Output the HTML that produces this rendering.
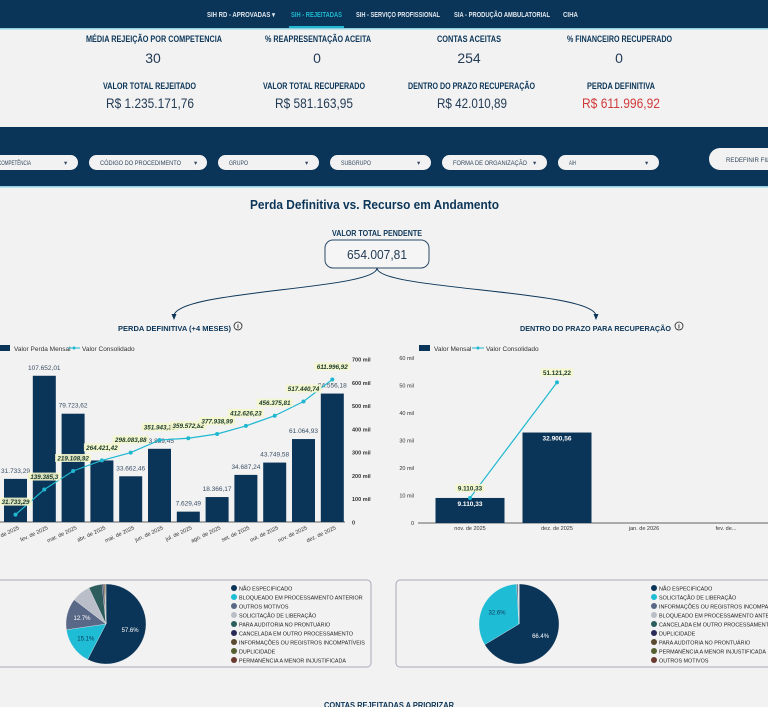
<!DOCTYPE html>
<html><head><meta charset="utf-8">
<style>
html,body{margin:0;padding:0;width:768px;height:707px;overflow:hidden;background:#f2f2f2;font-family:"Liberation Sans",sans-serif;}
svg text{font-family:"Liberation Sans",sans-serif;}
</style></head>
<body>
<svg id="page" width="768" height="707" viewBox="0 0 768 707" xmlns="http://www.w3.org/2000/svg">
  <rect x="0" y="0" width="768" height="707" fill="#f2f2f2"/>
  <g>
    <rect x="0" y="0" width="768" height="28" fill="#0b3558"/>
    <text x="207" y="17" font-size="7" fill="#dfe6ee" font-weight="bold" textLength="68" lengthAdjust="spacingAndGlyphs">SIH RD - APROVADAS ▾</text>
    <text x="291" y="17" font-size="7" fill="#1fb8d0" font-weight="bold" textLength="51" lengthAdjust="spacingAndGlyphs">SIH - REJEITADAS</text>
    <rect x="289" y="26" width="55" height="2" fill="#1fb8d0"/>
    <text x="356" y="17" font-size="7" fill="#dfe6ee" font-weight="bold" textLength="84" lengthAdjust="spacingAndGlyphs">SIH - SERVIÇO PROFISSIONAL</text>
    <text x="454" y="17" font-size="7" fill="#dfe6ee" font-weight="bold" textLength="96" lengthAdjust="spacingAndGlyphs">SIA - PRODUÇÃO AMBULATORIAL</text>
    <text x="563" y="17" font-size="7" fill="#dfe6ee" font-weight="bold" textLength="15" lengthAdjust="spacingAndGlyphs">CIHA</text>
  </g>
  <rect x="0" y="28" width="768" height="1.5" fill="#8fd3e0"/>
  <g fill="#0b3558">
    <text x="86" y="42" font-size="9" font-weight="bold" textLength="136" lengthAdjust="spacingAndGlyphs">MÉDIA REJEIÇÃO POR COMPETENCIA</text>
    <text x="153" y="63" font-size="14" fill="#233b55" text-anchor="middle">30</text>
    <text x="265" y="42" font-size="9" font-weight="bold" textLength="106" lengthAdjust="spacingAndGlyphs">% REAPRESENTAÇÃO ACEITA</text>
    <text x="317" y="63" font-size="14" fill="#233b55" text-anchor="middle">0</text>
    <text x="437" y="42" font-size="9" font-weight="bold" textLength="64" lengthAdjust="spacingAndGlyphs">CONTAS ACEITAS</text>
    <text x="469" y="63" font-size="14" fill="#233b55" text-anchor="middle">254</text>
    <text x="567" y="42" font-size="9" font-weight="bold" textLength="105" lengthAdjust="spacingAndGlyphs">% FINANCEIRO RECUPERADO</text>
    <text x="619" y="63" font-size="14" fill="#233b55" text-anchor="middle">0</text>
    <text x="103" y="89" font-size="9" font-weight="bold" textLength="93" lengthAdjust="spacingAndGlyphs">VALOR TOTAL REJEITADO</text>
    <text x="106" y="108" font-size="14" fill="#233b55" textLength="88" lengthAdjust="spacingAndGlyphs">R$ 1.235.171,76</text>
    <text x="263" y="89" font-size="9" font-weight="bold" textLength="102" lengthAdjust="spacingAndGlyphs">VALOR TOTAL RECUPERADO</text>
    <text x="275" y="108" font-size="14" fill="#233b55" textLength="78" lengthAdjust="spacingAndGlyphs">R$ 581.163,95</text>
    <text x="408" y="89" font-size="9" font-weight="bold" textLength="127" lengthAdjust="spacingAndGlyphs">DENTRO DO PRAZO RECUPERAÇÃO</text>
    <text x="437" y="108" font-size="14" fill="#233b55" textLength="70" lengthAdjust="spacingAndGlyphs">R$ 42.010,89</text>
    <text x="587" y="89" font-size="9" font-weight="bold" textLength="68" lengthAdjust="spacingAndGlyphs">PERDA DEFINITIVA</text>
    <text x="582" y="108" font-size="14" fill="#d03a3a" textLength="78" lengthAdjust="spacingAndGlyphs">R$ 611.996,92</text>
  </g>
  <g>
    <rect x="0" y="127" width="768" height="59" fill="#0b3558"/>
    <rect x="0" y="186" width="768" height="1.5" fill="#8fd3e0"/>
    <g font-size="6.5" fill="#33475e">
      <rect x="-20" y="155" width="98" height="15" rx="7.5" fill="#f2f2f2"/>
      <text x="-2" y="165" textLength="33" lengthAdjust="spacingAndGlyphs">COMPETÊNCIA</text><text x="64" y="165">▾</text>
      <rect x="89" y="155" width="118" height="15" rx="7.5" fill="#f2f2f2"/>
      <text x="100" y="165" textLength="81" lengthAdjust="spacingAndGlyphs">CÓDIGO DO PROCEDIMENTO</text><text x="194" y="165">▾</text>
      <rect x="218" y="155" width="101" height="15" rx="7.5" fill="#f2f2f2"/>
      <text x="229" y="165" textLength="19" lengthAdjust="spacingAndGlyphs">GRUPO</text><text x="305" y="165">▾</text>
      <rect x="330" y="155" width="101" height="15" rx="7.5" fill="#f2f2f2"/>
      <text x="341" y="165" textLength="30" lengthAdjust="spacingAndGlyphs">SUBGRUPO</text><text x="417" y="165">▾</text>
      <rect x="442" y="155" width="105" height="15" rx="7.5" fill="#f2f2f2"/>
      <text x="453" y="165" textLength="74" lengthAdjust="spacingAndGlyphs">FORMA DE ORGANIZAÇÃO</text><text x="533" y="165">▾</text>
      <rect x="558" y="155" width="101" height="15" rx="7.5" fill="#f2f2f2"/>
      <text x="569" y="165" textLength="7" lengthAdjust="spacingAndGlyphs">AIH</text><text x="645" y="165">▾</text>
      <rect x="709" y="148" width="80" height="22" rx="11" fill="#f2f2f2"/>
      <text x="726" y="162" textLength="60" lengthAdjust="spacingAndGlyphs">REDEFINIR FILTROS</text>
    </g>
  </g>
  <text x="250" y="209" font-size="13" font-weight="bold" fill="#0b3558" textLength="249" lengthAdjust="spacingAndGlyphs">Perda Definitiva vs. Recurso em Andamento</text>
  <text x="332" y="236" font-size="8" font-weight="bold" fill="#0b3558" textLength="90" lengthAdjust="spacingAndGlyphs">VALOR TOTAL PENDENTE</text>
  <rect x="325" y="240" width="104" height="28" rx="8" fill="#f5f5f5" stroke="#2b4a68" stroke-width="1"/>
  <text x="347" y="259" font-size="13" fill="#233b55" textLength="60" lengthAdjust="spacingAndGlyphs">654.007,81</text>
  <path d="M377 268 C377 290 175 290 174 316" fill="none" stroke="#0b3558" stroke-width="1"/>
  <path d="M377 268 C377 290 595 290 596 316" fill="none" stroke="#0b3558" stroke-width="1"/>
  <path d="M171.5 314 L174 320 L176.5 314 Z M593.5 314 L596 320 L598.5 314 Z" fill="#0b3558"/>
  <text x="118" y="331" font-size="7.5" font-weight="bold" fill="#0b3558" textLength="113" lengthAdjust="spacingAndGlyphs">PERDA DEFINITIVA (+4 MESES)</text>
  <circle cx="238" cy="326" r="4" fill="none" stroke="#222" stroke-width="0.8"/>
  <text x="238" y="328.5" font-size="6" text-anchor="middle" font-weight="bold" fill="#222">i</text>
  <text x="520" y="331" font-size="7.5" font-weight="bold" fill="#0b3558" textLength="151" lengthAdjust="spacingAndGlyphs">DENTRO DO PRAZO PARA RECUPERAÇÃO</text>
  <circle cx="679" cy="326" r="4" fill="none" stroke="#222" stroke-width="0.8"/>
  <text x="679" y="328.5" font-size="6" text-anchor="middle" font-weight="bold" fill="#222">i</text>
  <g font-size="6.5" fill="#333">
    <rect x="0" y="345" width="10" height="6" fill="#0b3558"/><text x="14" y="351">Valor Perda Mensal</text>
    <line x1="68" y1="348" x2="80" y2="348" stroke="#1fb8d0"/><circle cx="74" cy="348" r="1.5" fill="#1fb8d0"/><text x="82" y="351">Valor Consolidado</text>
    <rect x="419" y="345" width="11" height="6" fill="#0b3558"/><text x="434" y="351">Valor Mensal</text>
    <line x1="472" y1="348" x2="484" y2="348" stroke="#1fb8d0"/><circle cx="478" cy="348" r="1.5" fill="#1fb8d0"/><text x="486" y="351">Valor Consolidado</text>
  </g>
  <g id="leftChart"></g>
  <g id="rightChart"></g>
  <text x="125" y="603" font-size="8" font-weight="bold" fill="#0b3558" textLength="112" lengthAdjust="spacingAndGlyphs">RANKING - MOTIVOS BLOQUEIO</text>
  <rect x="-10" y="580" width="381" height="87" rx="4" fill="#f2f2f2" stroke="#aab" stroke-width="1"/>
  <text x="538" y="603" font-size="8" font-weight="bold" fill="#0b3558" textLength="112" lengthAdjust="spacingAndGlyphs">RANKING - MOTIVOS BLOQUEIO</text>
  <rect x="396" y="580" width="390" height="87" rx="4" fill="#f2f2f2" stroke="#aab" stroke-width="1"/>
  <g id="leftPie"></g>
  <g id="rightPie"></g>
  <text x="324" y="708" font-size="8" font-weight="bold" fill="#0b3558" textLength="130" lengthAdjust="spacingAndGlyphs">CONTAS REJEITADAS A PRIORIZAR</text>
</svg>
<script>
const NS="http://www.w3.org/2000/svg";
const leftMonths=["jan. de 2025","fev. de 2025","mar. de 2025","abr. de 2025","mai. de 2025","jun. de 2025","jul. de 2025","ago. de 2025","set. de 2025","out. de 2025","nov. de 2025","dez. de 2025"];
const leftMonthly=[31733.29,107652.01,79723.62,45312.50,33662.46,53889.45,7629.49,18366.17,34687.24,43749.58,61064.93,94556.18];
const leftConsolidated=[31733.29,139385.3,219108.92,264421.42,298083.88,351943.33,359572.82,377938.99,412626.23,456375.81,517440.74,611996.92];
const leftTicks=[0,100000,200000,300000,400000,500000,600000,700000];
const leftTickLabels=["0","100 mil","200 mil","300 mil","400 mil","500 mil","600 mil","700 mil"];
const rightMonths=["nov. de 2025","dez. de 2025","jan. de 2026","fev. de..."];
const rightMonthly=[9110.33,32900.56];
const rightConsolidated=[9110.33,51121.22];
const rightTicks=[0,10000,20000,30000,40000,50000,60000];
const rightTickLabels=["0","10 mil","20 mil","30 mil","40 mil","50 mil","60 mil"];
const leftPieLabels=["NÃO ESPECIFICADO","BLOQUEADO EM PROCESSAMENTO ANTERIOR","OUTROS MOTIVOS","SOLICITAÇÃO DE LIBERAÇÃO","PARA AUDITORIA NO PRONTUÁRIO","CANCELADA EM OUTRO PROCESSAMENTO","INFORMAÇÕES OU REGISTROS INCOMPATÍVEIS","DUPLICIDADE","PERMANÊNCIA A MENOR INJUSTIFICADA"];
const leftPieValues=[57.6,15.1,12.7,7.6,5.4,0.6,0.5,0.3,0.2];
const rightPieLabels=["NÃO ESPECIFICADO","SOLICITAÇÃO DE LIBERAÇÃO","INFORMAÇÕES OU REGISTROS INCOMPATÍVEIS","BLOQUEADO EM PROCESSAMENTO ANTERIOR","CANCELADA EM OUTRO PROCESSAMENTO","DUPLICIDADE","PARA AUDITORIA NO PRONTUÁRIO","PERMANÊNCIA A MENOR INJUSTIFICADA","OUTROS MOTIVOS"];
const rightPieValues=[66.4,32.6,0.6,0.2,0.1,0.05,0.03,0.01,0.01];
const pieColors=["#0b3558","#1fbcd6","#5a6888","#b9bec8","#2d5c5c","#2a2a5a","#5a4a30","#556030","#6a3a30"];

function el(tag,attrs,parent,txt){const e=document.createElementNS(NS,tag);for(const k in attrs)e.setAttribute(k,attrs[k]);if(txt!==undefined)e.textContent=txt;parent.appendChild(e);return e;}
function fmt(v){let s=v.toFixed(2).split(".");let i=s[0].replace(/\B(?=(\d{3})+(?!\d))/g,".");let d=s[1];if(d.endsWith("0")&&d!=="00")d=d[0];return i+","+d;}

(function(){
  const g=document.getElementById("leftChart");
  const base=522, top=359, barMax=120000, lineMax=700000;
  const yBar=v=>base-v/barMax*(base-top);
  const yLine=v=>base-v/lineMax*(base-top);
  const x=i=>15.5+i*28.8;
  el("line",{x1:0,y1:base,x2:345,y2:base,stroke:"#333","stroke-width":0.8},g);
  leftTicks.forEach((t,i)=>{const tx=el("text",{x:352,y:yLine(t)+2.5,"font-size":5.5,"font-weight":"bold",fill:"#333"},g,leftTickLabels[i]);
    
    });
  leftMonthly.forEach((v,i)=>{
    const r=el("rect",{x:x(i)-11.5,y:yBar(v),width:23,height:base-yBar(v),fill:"#0b3558"},g);
    
    
    if(i!==3){
      const t=el("text",{x:x(i),y:yBar(v)-6,"font-size":6.5,fill:"#3b4f66","text-anchor":"middle"},g,fmt(v));
      
      
    }
    const xl=el("text",{x:x(i)+4,y:base+7,"font-size":5.5,fill:"#333","text-anchor":"end",transform:"rotate(-25 "+(x(i)+4)+" "+(base+7)+")"},g,leftMonths[i]);
    
    
  });
  const pts=leftConsolidated.map((v,i)=>x(i)+","+yLine(v)).join(" ");
  const pl=el("polyline",{points:pts,fill:"none",stroke:"#1fb8d0","stroke-width":1.2},g);
  
  
  leftConsolidated.forEach((v,i)=>{
    const c=el("circle",{cx:x(i),cy:yLine(v),r:2,fill:"#1fb8d0"},g);
    
    
    const s=fmt(v),w=s.length*3.4+2;
    el("rect",{x:x(i)-w/2,y:yLine(v)-17,width:w,height:8,fill:"#f4f6cc",opacity:0.9},g);
    const t=el("text",{x:x(i),y:yLine(v)-10.5,"font-size":6.3,"font-weight":"bold","font-style":"italic",fill:"#1a3a2a","text-anchor":"middle"},g,s);
    
    
  });
})();

(function(){
  const g=document.getElementById("rightChart");
  const base=523, top=358, max=60000;
  const y=v=>base-v/max*(base-top);
  const x=i=>470+i*87;
  el("line",{x1:418,y1:base,x2:768,y2:base,stroke:"#333","stroke-width":0.8},g);
  rightTicks.forEach((t,i)=>{const tx=el("text",{x:414,y:y(t)+2,"font-size":5.5,fill:"#333","text-anchor":"end"},g,rightTickLabels[i]);
    
    });
  rightMonths.forEach((m,i)=>{const tx=el("text",{x:x(i)+(i==3?-5:0),y:base+7,"font-size":5.5,fill:"#333","text-anchor":"middle"},g,m);
    
    });
  rightMonthly.forEach((v,i)=>{
    const r=el("rect",{x:x(i)-34.5,y:y(v),width:69,height:base-y(v),fill:"#0b3558"},g);
    
    
    const t=el("text",{x:x(i),y:y(v)+8,"font-size":6.5,"font-weight":"bold",fill:"#fff","text-anchor":"middle"},g,fmt(v));
    
    
  });
  const pl=el("polyline",{points:rightConsolidated.map((v,i)=>x(i)+","+y(v)).join(" "),fill:"none",stroke:"#1fb8d0","stroke-width":1.2},g);
  
  
  rightConsolidated.forEach((v,i)=>{
    const c=el("circle",{cx:x(i),cy:y(v),r:2,fill:"#1fb8d0"},g);
    
    
    const s=fmt(v),w=s.length*3.4+2, cx=x(i);
    el("rect",{x:cx-w/2,y:y(v)-14,width:w,height:8,fill:"#f4f6cc",opacity:0.9},g);
    const t=el("text",{x:cx,y:y(v)-7.5,"font-size":6.3,"font-weight":"bold",fill:"#1a3a2a","text-anchor":"middle"},g,s);
    
    
  });
})();

function pie(id,cx,cy,r,vals,labels,lx){
  const g=document.getElementById(id);
  const tot=vals.reduce((a,b)=>a+b,0);
  let a=-Math.PI/2;
  vals.forEach((v,i)=>{
    const da=v/tot*2*Math.PI, a2=a+da;
    const x1=cx+r*Math.cos(a),y1=cy+r*Math.sin(a),x2=cx+r*Math.cos(a2),y2=cy+r*Math.sin(a2);
    const p=el("path",{d:`M${cx},${cy} L${x1},${y1} A${r},${r} 0 ${da>Math.PI?1:0} 1 ${x2},${y2} Z`,fill:pieColors[i],stroke:"#f2f2f2","stroke-width":0.3},g);
    
    
    if(v/tot>0.1){const m=(a+a2)/2;const t=el("text",{x:cx+r*0.62*Math.cos(m),y:cy+r*0.62*Math.sin(m)+2,"font-size":6,fill:i==1?"#0b3558":"#fff","text-anchor":"middle"},g,v.toFixed(1)+"%");
      
      }
    a=a2;
  });
  labels.forEach((l,i)=>{
    el("circle",{cx:lx,cy:588+i*9,r:3,fill:pieColors[i]},g);
    const t=el("text",{x:lx+5,y:590.5+i*9,"font-size":5.4,fill:"#222"},g,l);
    
    
  });
}
pie("leftPie",106,624,40,leftPieValues,leftPieLabels,234);
pie("rightPie",519,624,40,rightPieValues,rightPieLabels,654);
</script>
</body></html>
